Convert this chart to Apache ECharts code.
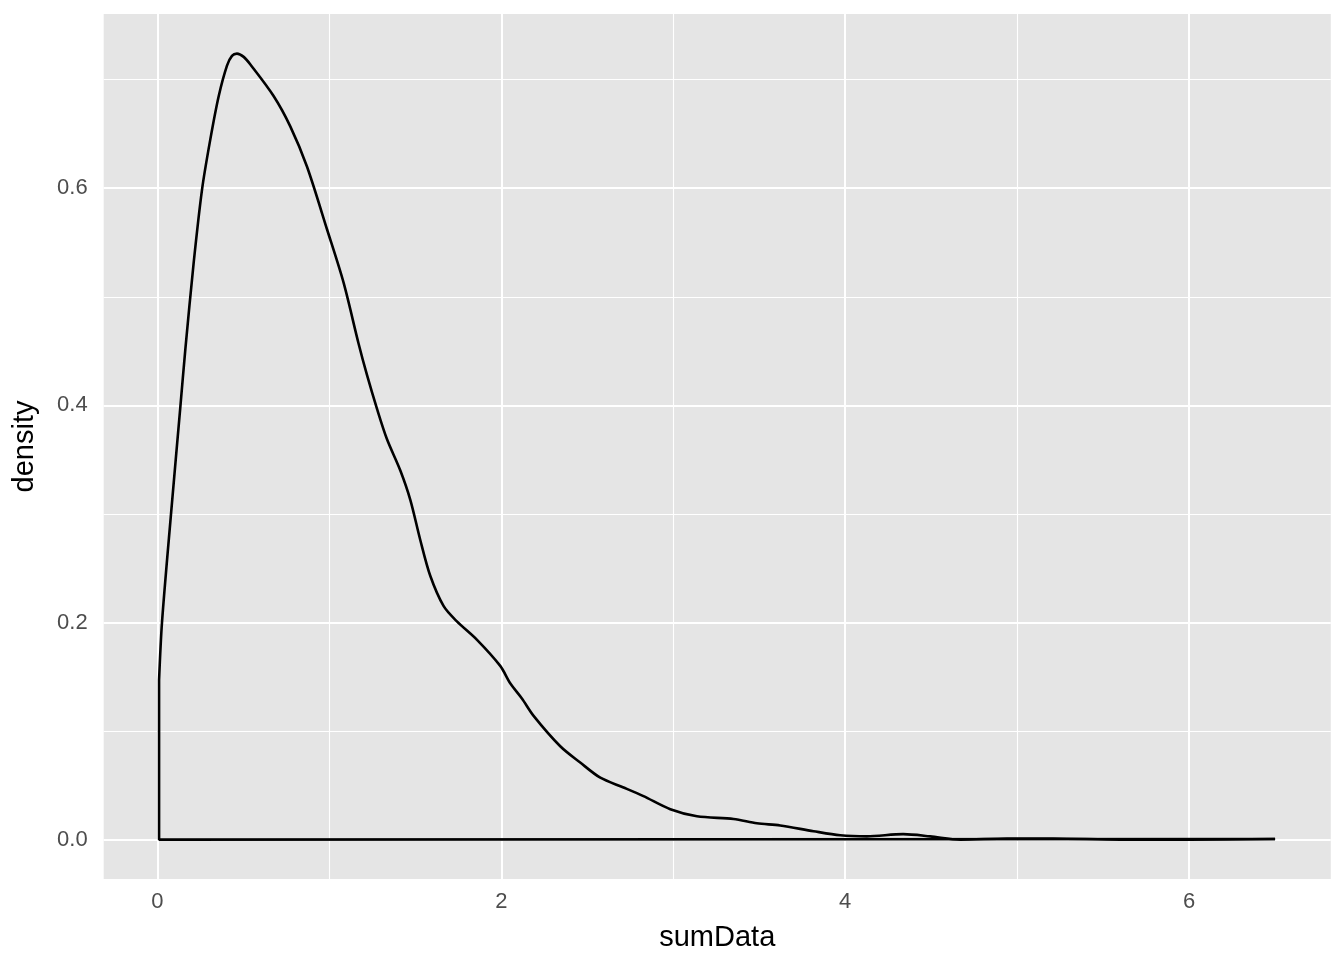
<!DOCTYPE html>
<html lang="en">
<head>
    <meta charset="UTF-8">
    <title>density</title>
    <style>
        html, body {
            margin: 0;
            padding: 0;
            background: #fff;
        }

        #chart {
            width: 1344px;
            height: 960px;
        }
    </style>
</head>
<body>
<div id="chart"></div>
<script src="https://cdn.jsdelivr.net/npm/echarts@6/dist/echarts.min.js"></script>
<script type="text/javascript">
    // density curve
    var densityX = [0.01, 0.027, 0.080, 0.134, 0.163, 0.211, 0.260, 0.308, 0.357, 0.405, 0.434, 0.463, 0.502, 0.541,
        0.676, 0.773, 0.870, 0.987, 1.083, 1.170, 1.219, 1.277, 1.335, 1.413, 1.471, 1.529, 1.587, 1.665, 1.742,
        1.859, 1.994, 2.052, 2.120, 2.188, 2.343, 2.459, 2.576, 2.711, 2.827, 2.983, 3.138, 3.351, 3.487, 3.622,
        3.816, 3.971, 4.126, 4.337, 4.494, 4.670, 4.940, 5.210, 5.600, 6.000, 6.500];
    var densityY = [0.147, 0.200, 0.301, 0.399, 0.452, 0.531, 0.599, 0.645, 0.685, 0.713, 0.722, 0.724, 0.721, 0.714,
        0.685, 0.657, 0.620, 0.562, 0.513, 0.457, 0.428, 0.397, 0.369, 0.340, 0.313, 0.276, 0.243, 0.215, 0.201,
        0.184, 0.160, 0.144, 0.130, 0.114, 0.086, 0.071, 0.057, 0.048, 0.040, 0.028, 0.0215, 0.019, 0.015, 0.013,
        0.0077, 0.004, 0.003, 0.005, 0.003, 0.000, 0.001, 0.001, 0.000, 0.000, 0.0005];

    var xTicks = [0, 2, 4, 6];
    var xMinor = [1, 3, 5];
    var yTicks = [0, 0.2, 0.4, 0.6];
    var yMinor = [0.1, 0.3, 0.5, 0.7];

    var chart = echarts.init(document.getElementById('chart'));

    var curve = densityX.map(function (x, i) {
        return [x, densityY[i]];
    });
    var first = densityX[0], last = densityX[densityX.length - 1];
    // closing edges of the density polygon
    var outline = [[last, densityY[densityY.length - 1]], [last, 0], [first, 0], [first, densityY[0]]];

    var gridLines = [];
    xTicks.forEach(function (v) {
        gridLines.push({xAxis: v, lineStyle: {width: 2}});
    });
    xMinor.forEach(function (v) {
        gridLines.push({xAxis: v, lineStyle: {width: 1.1}});
    });
    yTicks.forEach(function (v) {
        gridLines.push({yAxis: v, lineStyle: {width: 2}});
    });
    yMinor.forEach(function (v) {
        gridLines.push({yAxis: v, lineStyle: {width: 1.1}});
    });

    var font = '"Liberation Sans", Arial, Helvetica, sans-serif';

    chart.setOption({
        animation: false,
        textStyle: {fontFamily: font},
        grid: {
            left: 103.7,
            right: 13.2,
            top: 14,
            bottom: 81,
            show: true,
            backgroundColor: '#E5E5E5',
            borderWidth: 0,
            containLabel: false,
            outerBoundsMode: 'none'
        },
        xAxis: {
            type: 'value',
            min: -0.312,
            max: 6.824,
            name: 'sumData',
            nameLocation: 'middle',
            nameGap: 44,
            nameTextStyle: {fontSize: 29, color: '#000', fontFamily: font},
            axisLine: {show: false},
            splitLine: {show: false},
            axisTick: {show: true, customValues: xTicks, length: 7, lineStyle: {color: '#333', width: 2}},
            axisLabel: {
                customValues: xTicks,
                margin: 12,
                fontSize: 22,
                color: '#4D4D4D',
                fontFamily: font
            }
        },
        yAxis: {
            type: 'value',
            min: -0.0363,
            max: 0.7605,
            name: 'density',
            nameLocation: 'middle',
            nameGap: 64,
            nameTextStyle: {fontSize: 29, color: '#000', fontFamily: font},
            axisLine: {show: false},
            splitLine: {show: false},
            axisTick: {show: true, customValues: yTicks, length: 7, lineStyle: {color: '#333', width: 2}},
            axisLabel: {
                customValues: yTicks,
                margin: 16,
                fontSize: 22,
                color: '#4D4D4D',
                fontFamily: font,
                formatter: function (v) {
                    return v.toFixed(1);
                }
            }
        },
        series: [{
            type: 'line',
            z: 1,
            data: [[0, 0]],
            showSymbol: false,
            lineStyle: {width: 0, opacity: 0},
            silent: true,
            markLine: {
                z: 1,
                silent: true,
                symbol: 'none',
                label: {show: false},
                lineStyle: {color: '#fff', type: 'solid'},
                emphasis: {disabled: true},
                data: gridLines
            }
        }, {
            type: 'line',
            z: 3,
            data: outline,
            showSymbol: false,
            lineStyle: {color: '#000', width: 2.6},
            silent: true
        }, {
            type: 'line',
            z: 4,
            data: curve,
            smooth: 0.3,
            showSymbol: false,
            lineStyle: {color: '#000', width: 2.6},
            silent: true
        }]
    });
</script>
</body>
</html>
